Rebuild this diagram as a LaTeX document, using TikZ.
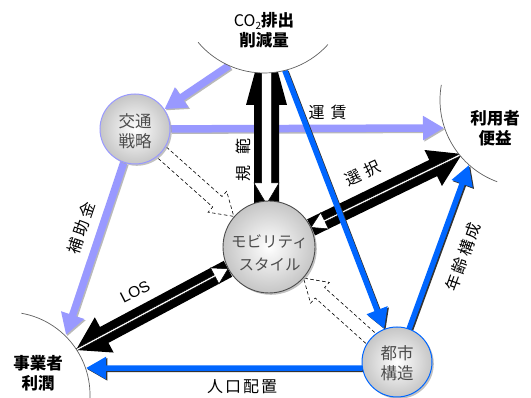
\documentclass[tikz,border=0pt]{standalone}
\usepackage{fontspec}
\setmainfont{Liberation Sans}
\newfontfamily\jp{Noto Sans CJK JP}
\usetikzlibrary{arrows.meta,shadows,calc}
\definecolor{purp}{HTML}{9999FF}
\definecolor{blu}{HTML}{0066FF}
\definecolor{ctext}{HTML}{4D4D4D}
\definecolor{arcc}{HTML}{606060}
\pgfdeclarelayer{bg}\pgfdeclarelayer{mid}
\pgfsetlayers{bg,mid,main}
% pair of arrows: black outward, white (outlined) inward
\newcommand\pairarr[8]{%
  \path (#1); \pgfgetlastxy{\PAax}{\PAay}%
  \path (#2); \pgfgetlastxy{\PAbx}{\PAby}%
  \pgfmathsetmacro\PAang{atan2(\PAby-\PAay,\PAbx-\PAax)}%
  \pgfmathsetmacro\PAlen{veclen(\PAbx-\PAax,\PAby-\PAay)}%
  \begin{scope}[shift={(#1)}, rotate=\PAang, x=1pt, y=1pt]
    \fill[black] (0,#3/2) -- (\PAlen-#5,#3/2) -- (\PAlen-#5,#4/2) -- (\PAlen,0) -- (\PAlen-#5,-#4/2) -- (\PAlen-#5,-#3/2) -- (0,-#3/2) -- cycle;
    \filldraw[fill=white, draw=black, line width=0.5pt] (\PAlen,#6/2) -- (#8,#6/2) -- (#8,#7/2) -- (0,0) -- (#8,-#7/2) -- (#8,-#6/2) -- (\PAlen,-#6/2);
  \end{scope}}
% hollow dashed arrow
\newcommand\hollowarr[5]{%
  \path (#1); \pgfgetlastxy{\PAax}{\PAay}%
  \path (#2); \pgfgetlastxy{\PAbx}{\PAby}%
  \pgfmathsetmacro\PAang{atan2(\PAby-\PAay,\PAbx-\PAax)}%
  \pgfmathsetmacro\PAlen{veclen(\PAbx-\PAax,\PAby-\PAay)}%
  \begin{scope}[shift={(#1)}, rotate=\PAang, x=1pt, y=1pt]
    \filldraw[fill=white, draw=black, line width=0.6pt, dash pattern=on 3.5pt off 2.5pt] (0,#3/2) -- (\PAlen-#5,#3/2) -- (\PAlen-#5,#4/2) -- (\PAlen,0) -- (\PAlen-#5,-#4/2) -- (\PAlen-#5,-#3/2) -- (0,-#3/2);
  \end{scope}}
% line with drop shadow
\newcommand\shline[5]{%
  \draw[#1, color=#3, transform canvas={xshift=1.3pt,yshift=-1.3pt}] (#4) -- (#5);
  \draw[#1, color=#2] (#4) -- (#5);}
\begin{document}
\begin{tikzpicture}[x=1pt,y=-1pt,
  parr/.style={line width=7.5pt, -{Triangle[length=21pt,width=23pt]}},
  barr/.style={line width=5.5pt, -{Triangle[length=20pt,width=21pt]}},
  circ/.style={circle, inner sep=0pt, shading=radial, inner color=white, outer color=gray!45,
    drop shadow={shadow xshift=1.8pt, shadow yshift=-1.8pt, fill=gray!70, opacity=0.7}},
  ctxt/.style={align=center, text=ctext, inner sep=0pt},
  big/.style={align=center, inner sep=0pt, font=\jp\bfseries\fontsize{16.5}{20}\selectfont},
  lbl/.style={inner sep=0pt, font=\jp\fontsize{16}{19}\selectfont},
  arcline/.style={draw=arcc, line width=0.7pt}]
\useasboundingbox (0,0) rectangle (531,398);
% centres of the three outer regions
\coordinate (co2c) at (264,-13);
\coordinate (benc) at (527,100);
\coordinate (jigc) at (7,395);
% circle nodes
\node[circ, draw=purp, line width=1pt, minimum size=70pt] (kt) at (135,129) {};
\node[circ, draw=gray!60!black, line width=0.9pt, minimum size=92pt] (mob) at (269,247) {};
\node[circ, draw=blu, line width=1pt, minimum size=70pt] (tk) at (397,362) {};
\node[ctxt, font=\jp\fontsize{16.5}{20}\selectfont] (ktt) at (135,131) {交通\\戦略};
\node[ctxt, font=\jp\fontsize{15.5}{22.5}\selectfont] (mobt) at (269.5,253) {モビリティ\\スタイル};
\node[ctxt, font=\jp\fontsize{16.5}{20}\selectfont] (tkt) at (397,363) {都市\\構造};
% end points on the outer arcs
\coordinate (co2a) at ($(co2c)+(114:86)$);
\coordinate (co2b) at ($(co2c)+(76:86)$);
\coordinate (bena) at (444,128);
\coordinate (benb) at (469,165);
\coordinate (jiga) at (66,335);
\coordinate (jigb) at (86,368);
\coordinate (pvS) at (266.5,204);
\coordinate (pvE) at (266.5,30);
\coordinate (selE) at (462,154);
\coordinate (losE) at (76,350);
\begin{pgfonlayer}{bg}
  \shline{parr}{purp}{gray!55}{co2a}{kt}
  \shline{parr}{purp}{gray!55}{kt}{bena}
  \shline{parr}{purp}{gray!55}{kt}{jiga}
  \pairarr{pvS}{pvE}{25}{41}{75}{10}{25}{21}
  \pairarr{mob.25}{selE}{18}{40}{32}{2}{18}{15}
  \pairarr{mob.208}{losE}{18}{40}{32}{2}{18}{15}
  \shline{barr}{blu}{gray!40!black}{co2b}{tk}
  \shline{barr}{blu}{gray!40!black}{tk}{benb}
  \shline{barr}{blu}{gray!40!black}{tk.190}{jigb}
  \hollowarr{kt.-41}{mob.139}{14}{28}{22}
  \hollowarr{tk.138}{mob.-42}{14}{28}{22}
\end{pgfonlayer}
\begin{pgfonlayer}{mid}
  \fill[white] (co2c) circle[radius=86];
  \draw[arcline] (co2c) ++(42:86) arc[start angle=42, end angle=140, radius=86];
  \fill[white] (benc) circle[radius=87];
  \draw[arcline] (benc) ++(110:87) arc[start angle=110, end angle=190, radius=87];
  \fill[white] (jigc) circle[radius=83];
  \draw[arcline] (jigc) ++(-80:83) arc[start angle=-80, end angle=5, radius=83];
\end{pgfonlayer}
% outer labels
\node[big] (co2) at (264,30) {{\mdseries\fontsize{16}{20}\selectfont CO\raisebox{-0.35ex}{\fontsize{10}{10}\selectfont 2}}排出\\削減量};
\node[big] (ben) at (495,128) {利用者\\便益};
\node[big] (jig) at (38,373) {事業者\\利潤};
% connector labels
\node[lbl] (unchin) at (327.5,112.5) {運\hspace{6pt}賃};
\node[lbl, rotate=90] (kihan) at (243.5,160) {規\hspace{11pt}範};
\node[lbl, rotate=25] (sentaku) at (363,173) {選\hspace{5pt}択};
\node[lbl, rotate=27, font=\fontsize{15.5}{18}\selectfont] (los) at (135,292) {LOS};
\node[lbl, rotate=71.5] (hojo) at (81,228) {補\kern2.5pt 助\kern2.5pt 金};
\node[lbl, rotate=70] (nenrei) at (463,257) {年\kern2.5pt 齢\kern2.5pt 構\kern2.5pt 成};
\node[lbl] (jinko) at (242,387) {人\kern2pt 口\kern2pt 配\kern2pt 置};
\end{tikzpicture}
\end{document}
